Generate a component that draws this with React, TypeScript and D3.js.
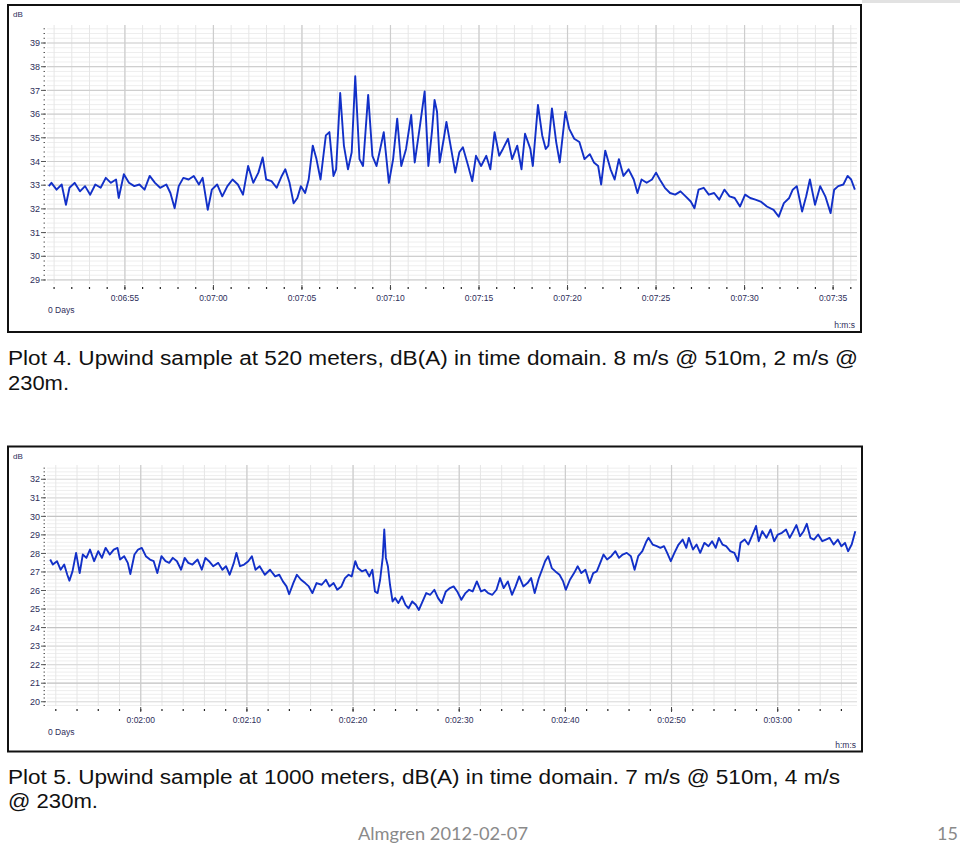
import React from "react";
import * as d3 from "d3";

// ---------- Plot 4 data (seconds since 0:00:00, dB(A)) ----------
const topTimes = [
  410.70, 410.85, 411.14, 411.43, 411.67, 411.87, 412.16, 412.46, 412.75, 413.04,
  413.33, 413.63, 413.92, 414.21, 414.50, 414.65, 414.94, 415.23, 415.53, 415.82,
  416.11, 416.40, 416.70, 416.99, 417.34, 417.57, 417.81, 418.04, 418.30, 418.60,
  418.89, 419.18, 419.39, 419.68, 419.91, 420.21, 420.50, 420.79, 421.08, 421.38,
  421.67, 421.96, 422.25, 422.54, 422.78, 422.98, 423.28, 423.57, 423.86, 424.06,
  424.30, 424.53, 424.74, 424.94, 425.18, 425.38, 425.61, 425.82, 426.05, 426.35,
  426.55, 426.78, 426.93, 427.16, 427.37, 427.60, 427.81, 428.01, 428.25, 428.45,
  428.74, 428.98, 429.21, 429.42, 429.62, 429.91, 430.15, 430.38, 430.61, 430.88,
  431.17, 431.37, 431.67, 431.93, 432.14, 432.34, 432.49, 432.63, 432.78, 433.01,
  433.16, 433.36, 433.66, 433.89, 434.09, 434.39, 434.62, 434.83, 435.12, 435.41,
  435.64, 435.88, 436.14, 436.35, 436.64, 436.87, 437.16, 437.40, 437.60, 437.90,
  438.04, 438.33, 438.57, 438.77, 438.92, 439.12, 439.36, 439.56, 439.88, 440.09,
  440.38, 440.67, 440.96, 441.26, 441.49, 441.73, 441.90, 442.13, 442.43, 442.66,
  442.90, 443.16, 443.45, 443.74, 443.95, 444.18, 444.47, 444.77, 445.00, 445.21,
  445.50, 445.79, 446.08, 446.38, 446.67, 446.96, 447.17, 447.40, 447.69, 447.98,
  448.28, 448.57, 448.86, 449.15, 449.44, 449.74, 450.03, 450.32, 450.61, 450.91,
  451.26, 451.64, 451.93, 452.22, 452.52, 452.72, 452.95, 453.25, 453.48, 453.69,
  453.98, 454.27, 454.56, 454.86, 455.06, 455.29, 455.58, 455.82, 456.02, 456.23,
];
const topValues = [
  32.96, 33.10, 32.81, 33.03, 32.17, 32.89, 33.10, 32.74, 32.96, 32.60,
  33.03, 32.89, 33.31, 33.10, 33.24, 32.46, 33.46, 33.10, 32.96, 33.03,
  32.81, 33.39, 33.10, 32.89, 33.03, 32.67, 32.03, 32.96, 33.31, 33.24,
  33.39, 33.03, 33.31, 31.96, 32.81, 33.03, 32.53, 32.96, 33.24, 33.03,
  32.60, 33.81, 33.10, 33.53, 34.17, 33.24, 33.17, 32.89, 33.39, 33.67,
  33.10, 32.24, 32.46, 32.96, 32.67, 33.24, 34.67, 34.10, 33.24, 35.10,
  35.24, 33.39, 33.67, 36.89, 34.67, 33.67, 34.39, 37.60, 34.10, 33.81,
  36.81, 34.24, 33.81, 34.53, 35.24, 33.10, 34.10, 35.81, 33.81, 34.53,
  35.96, 33.96, 35.53, 36.96, 33.81, 35.24, 36.60, 36.10, 33.96, 34.96,
  35.67, 34.82, 33.53, 34.39, 34.60, 33.81, 33.17, 34.24, 33.81, 34.24,
  33.67, 35.24, 34.24, 34.53, 34.96, 34.10, 34.67, 33.67, 35.17, 34.53,
  33.81, 36.39, 35.10, 34.53, 34.67, 36.24, 34.82, 33.96, 36.10, 35.39,
  34.96, 34.82, 34.10, 34.31, 33.96, 33.81, 33.03, 34.46, 33.67, 33.24,
  34.10, 33.39, 33.67, 33.24, 32.67, 33.24, 33.10, 33.24, 33.53, 33.24,
  32.89, 32.67, 32.60, 32.74, 32.53, 32.31, 32.03, 32.81, 32.89, 32.60,
  32.67, 32.39, 32.81, 32.53, 32.46, 32.10, 32.60, 32.46, 32.39, 32.31,
  32.10, 31.96, 31.67, 32.24, 32.46, 32.81, 32.96, 31.89, 32.53, 33.24,
  32.17, 32.96, 32.53, 31.82, 32.81, 32.96, 33.03, 33.39, 33.24, 32.81,
];
const topYTicks = [29, 30, 31, 32, 33, 34, 35, 36, 37, 38, 39];
const topXTicks = [415, 420, 425, 430, 435, 440, 445, 450, 455];
const topXLabels = ["0:06:55", "0:07:00", "0:07:05", "0:07:10", "0:07:15", "0:07:20", "0:07:25", "0:07:30", "0:07:35"];

// ---------- Plot 5 data ----------
const bottomTimes = [
  111.47, 111.72, 112.11, 112.45, 112.79, 113.08, 113.28, 113.57, 113.91, 114.25,
  114.54, 114.88, 115.22, 115.61, 116.00, 116.34, 116.69, 117.08, 117.46, 117.81,
  118.05, 118.44, 118.78, 119.02, 119.41, 119.75, 120.10, 120.48, 120.87, 121.22,
  121.56, 121.95, 122.34, 122.68, 123.02, 123.41, 123.80, 124.14, 124.48, 124.87,
  125.36, 125.75, 126.09, 126.43, 126.82, 127.30, 127.69, 128.03, 128.38, 128.77,
  129.01, 129.35, 129.74, 130.13, 130.47, 130.81, 131.20, 131.69, 132.18, 132.66,
  133.05, 133.39, 133.73, 133.98, 134.37, 134.71, 135.10, 135.49, 135.83, 136.17,
  136.56, 137.05, 137.44, 137.78, 138.17, 138.51, 138.90, 139.24, 139.58, 139.87,
  140.21, 140.46, 140.85, 141.19, 141.53, 141.82, 142.06, 142.31, 142.55, 142.79,
  142.94, 143.09, 143.28, 143.48, 143.72, 143.96, 144.26, 144.60, 144.94, 145.23,
  145.57, 145.91, 146.20, 146.55, 146.89, 147.27, 147.66, 148.01, 148.35, 148.74,
  149.13, 149.47, 149.81, 150.20, 150.59, 150.93, 151.27, 151.66, 152.05, 152.39,
  152.73, 153.12, 153.51, 153.85, 154.19, 154.58, 154.97, 155.31, 155.65, 156.04,
  156.43, 156.77, 157.11, 157.50, 157.80, 158.09, 158.38, 158.72, 159.06, 159.45,
  159.79, 160.04, 160.43, 160.82, 161.16, 161.50, 161.89, 162.28, 162.62, 162.96,
  163.35, 163.59, 163.93, 164.32, 164.71, 165.05, 165.40, 165.78, 166.17, 166.52,
  166.86, 167.25, 167.64, 167.83, 168.22, 168.61, 168.95, 169.29, 169.59, 169.93,
  170.27, 170.66, 171.05, 171.39, 171.63, 172.02, 172.36, 172.70, 173.09, 173.48,
  173.82, 174.16, 174.46, 174.80, 175.14, 175.53, 175.92, 176.26, 176.50, 176.89,
  177.23, 177.57, 177.96, 178.21, 178.55, 178.94, 179.33, 179.67, 180.01, 180.40,
  180.79, 181.13, 181.47, 181.76, 182.10, 182.44, 182.74, 183.08, 183.42, 183.81,
  184.20, 184.54, 184.88, 185.27, 185.66, 186.00, 186.34, 186.63, 186.97, 187.31,
];
const bottomValues = [
  27.67, 27.40, 27.58, 27.12, 27.40, 26.85, 26.53, 27.03, 28.03, 26.94,
  27.94, 27.76, 28.21, 27.58, 28.12, 27.76, 28.30, 27.94, 28.21, 28.30,
  27.67, 27.85, 27.49, 26.89, 27.94, 28.21, 28.30, 27.85, 27.67, 27.58,
  26.94, 27.85, 27.58, 27.49, 27.76, 27.58, 27.12, 27.76, 27.49, 27.40,
  27.67, 27.12, 27.76, 27.58, 27.31, 27.49, 27.12, 27.31, 26.85, 27.49,
  28.03, 27.31, 27.40, 27.58, 27.85, 27.12, 27.31, 26.85, 27.12, 26.76,
  26.85, 26.49, 26.22, 25.80, 26.40, 26.85, 26.58, 26.40, 26.22, 25.86,
  26.40, 26.31, 26.58, 26.22, 26.40, 26.04, 26.22, 26.67, 26.85, 26.76,
  27.58, 27.21, 27.03, 27.12, 26.76, 27.12, 25.95, 25.86, 26.58, 27.76,
  29.29, 27.76, 27.31, 26.31, 25.41, 25.59, 25.32, 25.68, 25.23, 25.04,
  25.41, 25.23, 24.95, 25.41, 25.86, 25.77, 26.04, 25.59, 25.32, 25.95,
  26.13, 26.22, 25.95, 25.50, 25.86, 26.04, 25.95, 26.49, 25.95, 26.04,
  25.86, 25.77, 26.04, 26.67, 26.13, 26.49, 25.77, 26.22, 26.76, 26.22,
  26.40, 26.67, 25.86, 26.67, 27.12, 27.58, 27.85, 27.21, 27.03, 26.85,
  26.49, 26.04, 26.58, 26.94, 27.31, 26.94, 27.12, 26.40, 26.94, 27.03,
  27.58, 27.94, 27.67, 27.85, 28.12, 27.76, 27.94, 28.03, 27.85, 27.12,
  27.85, 28.12, 28.66, 28.84, 28.48, 28.39, 28.30, 28.39, 28.03, 27.58,
  28.03, 28.48, 28.75, 28.30, 28.84, 28.21, 28.48, 28.03, 28.57, 28.39,
  28.66, 28.30, 28.84, 28.48, 28.39, 28.12, 28.03, 27.58, 28.57, 28.75,
  28.48, 28.93, 29.48, 28.66, 29.20, 28.84, 29.29, 28.66, 29.02, 29.11,
  29.29, 28.84, 29.20, 29.53, 28.93, 29.20, 29.60, 28.84, 28.75, 29.02,
  28.66, 28.75, 28.84, 28.48, 28.75, 28.39, 28.57, 28.12, 28.48, 29.20,
];
const bottomYTicks = [20, 21, 22, 23, 24, 25, 26, 27, 28, 29, 30, 31, 32];
const bottomStrongY = [21, 24, 27, 30];
const bottomXTicks = [120, 130, 140, 150, 160, 170, 180];
const bottomXLabels = ["0:02:00", "0:02:10", "0:02:20", "0:02:30", "0:02:40", "0:02:50", "0:03:00"];

const captions = [
  ["Plot 4. Upwind sample at 520 meters, dB(A) in time domain. 8 m/s @ 510m, 2 m/s @", "230m."],
  ["Plot 5. Upwind sample at 1000 meters, dB(A) in time domain. 7 m/s @ 510m, 4 m/s", "@ 230m."],
];
const footerText = "Almgren 2012-02-07";
const pageNumber = "15";

const AXIS_FONT = "'Liberation Sans', Arial, sans-serif";
const LABEL_COLOR = "#2e2e5a";
const LINE_COLOR = "#1230c8";

type Box = { l: number; t: number; r: number; b: number };

function TimeChart(props: {
  frame: Box;
  plot: Box;
  xDomain: [number, number];
  yDomain: [number, number];
  yTicks: number[];
  strongY: number[] | null;
  xTicks: number[];
  xLabels: string[];
  xMinorStep: number;
  times: number[];
  values: number[];
}) {
  const { frame, plot, xDomain, yDomain, yTicks, strongY, xTicks, xLabels, xMinorStep, times, values } = props;
  const x = d3.scaleLinear().domain(xDomain).range([plot.l, plot.r]);
  const y = d3.scaleLinear().domain(yDomain).range([plot.b, plot.t]);
  const minorY = d3.range(Math.ceil(yDomain[0] * 5) / 5, yDomain[1], 0.2);
  const minorX = d3.range(Math.ceil(xDomain[0] / xMinorStep) * xMinorStep, xDomain[1], xMinorStep);
  const line = d3
    .line<number>()
    .x((_, i) => x(times[i]))
    .y((d) => y(d));
  const path = line(values) || "";

  return (
    <g>
      <rect x={frame.l} y={frame.t} width={frame.r - frame.l} height={frame.b - frame.t} fill="#fff" stroke="#111" strokeWidth={2} />
      <text x={frame.l + 5} y={frame.t + 12} fontFamily={AXIS_FONT} fontSize={8} fill={LABEL_COLOR}>dB</text>
      {/* minor grid */}
      {minorY.map((v) => (
        <line key={"my" + v} x1={plot.l} x2={plot.r} y1={y(v)} y2={y(v)} stroke="#eeeeee" strokeWidth={1} />
      ))}
      {minorX.map((v) => (
        <line key={"mx" + v} x1={x(v)} x2={x(v)} y1={plot.t} y2={plot.b} stroke="#e6e6e6" strokeWidth={1} />
      ))}
      {/* major grid */}
      {yTicks.map((v) => (
        <line
          key={"gy" + v}
          x1={plot.l}
          x2={plot.r}
          y1={y(v)}
          y2={y(v)}
          stroke={strongY ? (strongY.includes(v) ? "#c4c4c4" : "#dcdcdc") : "#cfcfcf"}
          strokeWidth={1.2}
        />
      ))}
      {xTicks.map((v) => (
        <line key={"gx" + v} x1={x(v)} x2={x(v)} y1={plot.t} y2={plot.b} stroke="#cdcdcd" strokeWidth={1.2} />
      ))}
      {/* y axis */}
      {minorY.map((v) => (
        <line key={"ty" + v} x1={plot.l - 3.5} x2={plot.l - 2} y1={y(v)} y2={y(v)} stroke="#555" strokeWidth={1} />
      ))}
      {yTicks.map((v) => (
        <g key={"ly" + v}>
          <line x1={plot.l - 6} x2={plot.l - 1} y1={y(v)} y2={y(v)} stroke="#555" strokeWidth={1} />
          <text x={plot.l - 7} y={y(v) + 3.2} textAnchor="end" fontFamily={AXIS_FONT} fontSize={9} fill={LABEL_COLOR}>
            {v}
          </text>
        </g>
      ))}
      {/* x axis */}
      {minorX.map((v) => (
        <line key={"tx" + v} x1={x(v)} x2={x(v)} y1={plot.b + 3} y2={plot.b + 5} stroke="#222" strokeWidth={1.2} />
      ))}
      {xTicks.map((v, i) => (
        <g key={"lx" + v}>
          <line x1={x(v)} x2={x(v)} y1={plot.b + 1} y2={plot.b + 6} stroke="#444" strokeWidth={1} />
          <text x={x(v)} y={plot.b + 17} textAnchor="middle" fontFamily={AXIS_FONT} fontSize={8.5} fill={LABEL_COLOR}>
            {xLabels[i]}
          </text>
        </g>
      ))}
      <text x={plot.l + 1} y={plot.b + 29} fontFamily={AXIS_FONT} fontSize={8.5} fill={LABEL_COLOR}>0 Days</text>
      <text x={frame.r - 6} y={frame.b - 4} textAnchor="end" fontFamily={AXIS_FONT} fontSize={8.5} fill={LABEL_COLOR}>h:m:s</text>
      {/* series */}
      <path d={path} fill="none" stroke={LINE_COLOR} strokeWidth={1.9} strokeLinejoin="round" />
    </g>
  );
}

export default function App() {
  return (
    <svg width={960} height={843} style={{ position: "absolute", left: 0, top: 0, background: "#fff" }}>
      <rect x={0} y={0} width={960} height={843} fill="#fff" />
      <rect x={862} y={0} width={98} height={3} fill="#e2e2e2" />
      <TimeChart
        frame={{ l: 8, t: 5, r: 861, b: 332 }}
        plot={{ l: 47, t: 25, r: 857, b: 284 }}
        xDomain={[410.6, 456.35]}
        yDomain={[28.83, 39.76]}
        yTicks={topYTicks}
        strongY={null}
        xTicks={topXTicks}
        xLabels={topXLabels}
        xMinorStep={1}
        times={topTimes}
        values={topValues}
      />
      <TimeChart
        frame={{ l: 8, t: 446.5, r: 862, b: 751.5 }}
        plot={{ l: 47, t: 465, r: 857, b: 706 }}
        xDomain={[111.17, 187.47]}
        yDomain={[19.77, 32.77]}
        yTicks={bottomYTicks}
        strongY={bottomStrongY}
        xTicks={bottomXTicks}
        xLabels={bottomXLabels}
        xMinorStep={2}
        times={bottomTimes}
        values={bottomValues}
      />
      <g fontFamily={AXIS_FONT} fontSize={19.5} fill="#111">
        <text x={8} y={365} textLength={850} lengthAdjust="spacingAndGlyphs">{captions[0][0]}</text>
        <text x={8} y={390} textLength={61} lengthAdjust="spacingAndGlyphs">{captions[0][1]}</text>
        <text x={8} y={784} textLength={832} lengthAdjust="spacingAndGlyphs">{captions[1][0]}</text>
        <text x={8} y={808} textLength={90} lengthAdjust="spacingAndGlyphs">{captions[1][1]}</text>
      </g>
      <text x={358} y={840} fontFamily="Lato, 'Open Sans', sans-serif" fontSize={18} fill="#8a8a8a" textLength={170} lengthAdjust="spacingAndGlyphs">
        {footerText}
      </text>
      <text x={958} y={840} textAnchor="end" fontFamily="Lato, 'Open Sans', sans-serif" fontSize={18} fill="#8a8a8a">
        {pageNumber}
      </text>
    </svg>
  );
}
